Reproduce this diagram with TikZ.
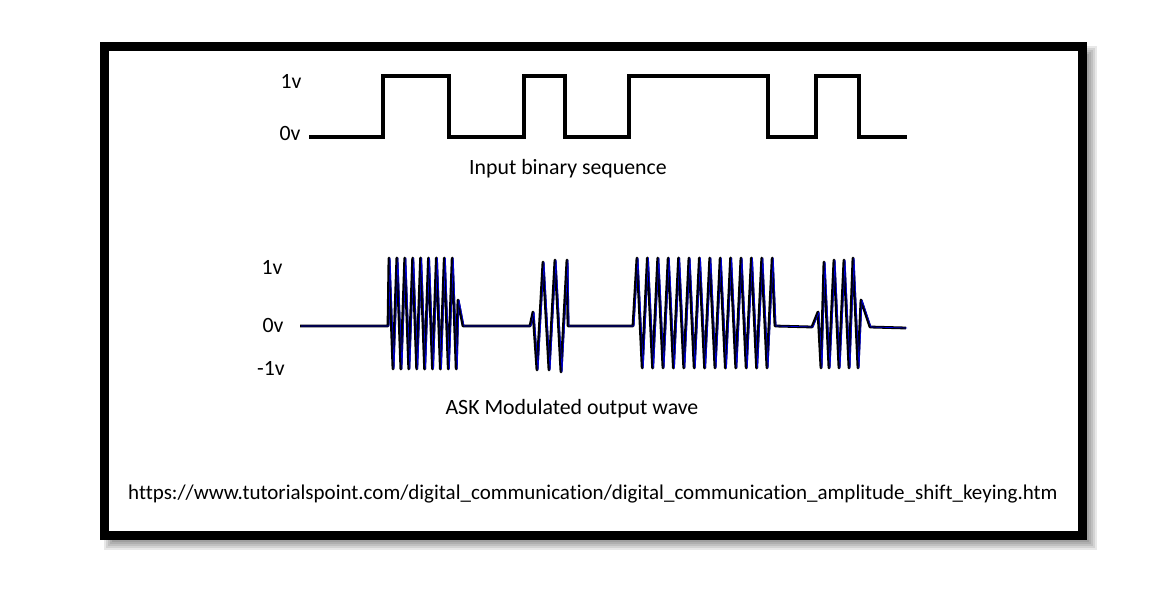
\documentclass[tikz,border=0pt]{standalone}
\usepackage{fontspec}
\setmainfont{Carlito}[Ligatures=NoCommon]
\usepackage{tikz}

\tikzset{
  lbl/.style={inner sep=0pt,font=\fontsize{10.9}{13}\selectfont},
  sqwave/.style={draw=black,line width=1.6pt,line join=miter},
  askwave/.style={draw=black,line width=1.4pt,line join=round},
  askblue/.style={draw=blue!85!black,line width=0.35pt,line join=round}
}

\begin{document}
\begin{tikzpicture}[x=0.5pt,y=-0.5pt]
\useasboundingbox (0,0) rectangle (1158,594);
% shadow of the frame:
\foreach \k in {0,...,6}
  \path[fill=black,opacity=0.09] (104+2*\k,46+2*\k) rectangle (1097-2*\k,550-2*\k);
% frame:
\path[draw=black,line width=4.5pt,fill=white] (104.5,46.5) rectangle (1082.5,535.5);
% input binary sequence:
\path[sqwave] (309,137) -- (383,137) -- (383,76) -- (449,76) -- (449,137)
  -- (524,137) -- (524,76) -- (565,76) -- (565,137) -- (629,137) -- (629,76)
  -- (768,76) -- (768,137) -- (816,137) -- (816,76) -- (859,76) -- (859,137)
  -- (907,137);
\node[lbl] (highA) at (291,81) {1v};
\node[lbl] (lowA) at (290,133) {0v};
\node[lbl] (titleA) at (568,169) {Input binary sequence};
% ASK modulated output wave:
\foreach \s/\st in {0/askwave,1.1/askblue}
  \path[\st,shift={(\s,0)}] (300,326) -- (388,326) -- (389,258)
    foreach \k in {0,...,7} { -- (393+7.9*\k,369) -- (396.9+7.9*\k,258) }
    -- (456.2,369) -- (458,300) -- (463,326) -- (530,326) -- (533,312)
    -- (537,370) -- (543,262) -- (549,370) -- (555,260) -- (561,372)
    -- (567,260) -- (568,326) -- (633,326) -- (637,258)
    foreach \k in {0,...,12} { -- (642.2+10.4*\k,368) -- (647.4+10.4*\k,258) }
    -- (775,326) -- (812,327) -- (818,312) -- (821,368) -- (824,262)
    -- (829,368) -- (834,260) -- (839,368) -- (844,260) -- (849,368)
    -- (853,258) -- (858,368) -- (861,300) -- (870,327) -- (906,328);
\node[lbl] (highB) at (272,267) {1v};
\node[lbl] (zeroB) at (273,325) {0v};
\node[lbl] (lowB) at (271,368) {-1v};
\node[lbl] (titleB) at (572,409) {ASK Modulated output wave};
% source:
\node[lbl,font=\fontsize{10.5}{13}\selectfont] (source) at (593,494) {https://www.tutorialspoint.com/digital\_communication/digital\_communication\_amplitude\_shift\_keying.htm};
\end{tikzpicture}
\end{document}
